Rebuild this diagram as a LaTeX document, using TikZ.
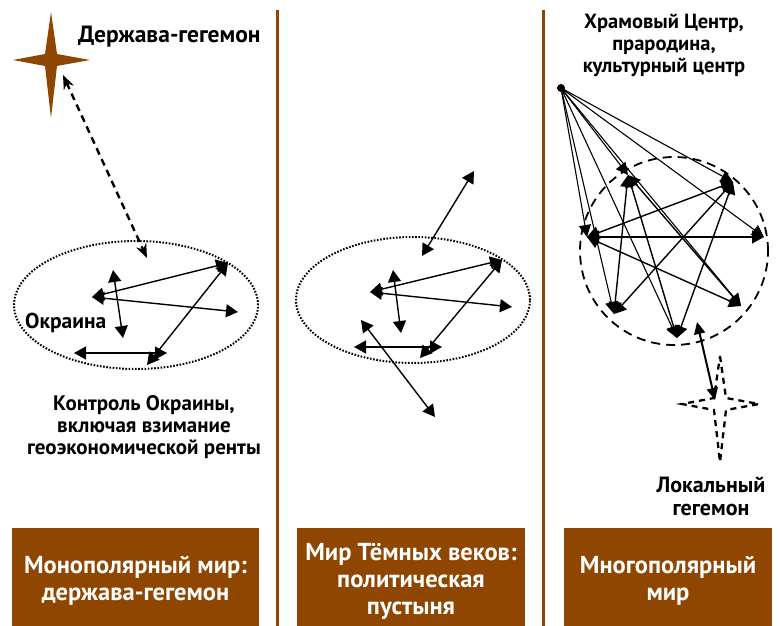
\documentclass[tikz,border=0pt]{standalone}
\usepackage{fontspec}
\setmainfont{PT Sans}
\usetikzlibrary{arrows.meta}
\definecolor{brn}{RGB}{143,70,0}
\tikzset{
  tri/.style={line width=1.4pt,{Triangle[length=12pt,width=13pt]}-{Triangle[length=12pt,width=13pt]}},
  ray/.style={line width=1.1pt,-{Triangle[length=12pt,width=12pt]}},
  lbl/.style={font=\fontsize{21}{22}\selectfont\bfseries,align=center,inner sep=0pt},
  boxlbl/.style={font=\fontsize{24.5}{27}\selectfont\bfseries,text=white,align=center,inner sep=0pt},
  dotell/.style={line width=2pt,dash pattern=on 1.6pt off 1.6pt},
  pillar/.style={draw=brn,line width=3pt},
  panel/.style={fill=brn},
  starfill/.style={fill=brn},
  stardash/.style={line width=2.3pt,dash pattern=on 6pt off 5pt},
}
\newcommand{\starpath}[2]{% center x, y
  (#1,#2-48) -- (#1+6,#2-6) -- (#1+39,#2) -- (#1+6,#2+6) -- (#1,#2+58) -- (#1-6,#2+6) -- (#1-38,#2) -- (#1-6,#2-6) -- cycle}
\begin{document}
\begin{tikzpicture}[x=1pt,y=-1pt]
\useasboundingbox (0,0) rectangle (780,626);
% pillars
\draw[pillar] (277.5,10) -- (277.5,626);
\draw[pillar] (543.5,10) -- (543.5,626);
% bottom boxes
\node[panel,minimum width=247pt,minimum height=98pt,anchor=north west,inner sep=0pt] (b1) at (12,528) {};
\node[panel,minimum width=228pt,minimum height=98pt,anchor=north west,inner sep=0pt] (b2) at (297,528) {};
\node[panel,minimum width=208pt,minimum height=98pt,anchor=north west,inner sep=0pt] (b3) at (564,528) {};
\node[boxlbl] (t1) at (135.5,581) {Монополярный мир:\\держава-гегемон};
\node[boxlbl] (t2) at (411,581) {Мир Тёмных веков:\\политическая\\пустыня};
\node[boxlbl] (t3) at (668,581) {Многополярный\\мир};

% ---------- left panel
\fill[starfill] \starpath{51}{60};
\coordinate (s1) at (63,75);
\node[lbl,font=\fontsize{23.5}{26}\selectfont\bfseries,anchor=west] (heg) at (78,37) {Держава-гегемон};
\draw[dotell] (136,305) ellipse [x radius=122pt, y radius=64pt];
\node[lbl,font=\fontsize{21.5}{24}\selectfont\bfseries,anchor=west] (okr) at (25,323) {Окраина};
\coordinate (L1) at (92,297);
\coordinate (L2) at (228,263);
\coordinate (L3) at (238,312);
\coordinate (L4) at (113,270);
\coordinate (L5) at (123,338);
\coordinate (L6) at (74,353);
\coordinate (L7) at (167,353);
\coordinate (L8) at (147,365);
\coordinate (L9) at (147,258);
\draw[line width=2.4pt,dash pattern=on 7pt off 5pt,{Stealth[length=14pt,width=11pt]}-{Stealth[length=14pt,width=11pt]}] (s1) -- (L9);
\draw[tri] (L1) -- (L2);
\draw[tri] (L1) -- (L3);
\draw[tri] (L4) -- (L5);
\draw[tri] (L6) -- (L7);
\draw[tri] (L2) -- (L8);
\node[lbl] (ctl) at (144,427) {Контроль Окраины,\\включая взимание\\геоэкономической ренты};

% ---------- middle panel
\draw[dotell] (413,300) ellipse [x radius=117pt, y radius=63pt];
\coordinate (M1) at (474,171);
\coordinate (M2) at (422,256);
\coordinate (M3) at (370,292);
\coordinate (M4) at (502,260);
\coordinate (M5) at (512,307);
\coordinate (M6) at (393,270);
\coordinate (M7) at (401,333);
\coordinate (M8) at (354,347);
\coordinate (M9) at (442,347);
\coordinate (M10) at (420,358);
\coordinate (M11) at (361,320);
\coordinate (M12) at (435,417);
\draw[tri] (M1) -- (M2);
\draw[tri] (M3) -- (M4);
\draw[tri] (M3) -- (M5);
\draw[tri] (M6) -- (M7);
\draw[tri] (M8) -- (M9);
\draw[tri] (M4) -- (M10);
\draw[tri] (M11) -- (M12);

% ---------- right panel
\node[lbl,font=\fontsize{20.5}{22}\selectfont\bfseries] (hram) at (664,45) {Храмовый Центр,\\прародина,\\культурный центр};
\draw[line width=1.8pt,dash pattern=on 9pt off 6pt] (674,251) circle [radius=94pt];
\node[circle,fill=black,inner sep=0pt,minimum size=8pt] (D) at (561,88) {};
\coordinate (N1) at (628,175);
\coordinate (N2) at (733,182);
\coordinate (N3) at (587,237);
\coordinate (N4) at (764,237);
\coordinate (N5) at (614,314);
\coordinate (N6) at (741,306);
\coordinate (N7) at (677,338);
\foreach \n in {N1,N2,N3,N4,N5,N6,N7} \draw[ray] (D.center) -- (\n);
\draw[tri] (N3) -- (N4);
\draw[tri] (N3) -- (N2);
\draw[tri] (N3) -- (N6);
\draw[tri] (N1) -- (N5);
\draw[tri] (N1) -- (N7);
\draw[tri] (N1) -- (N6);
\draw[tri] (N2) -- (N5);
\draw[tri] (N2) -- (N7);
\draw[stardash] \starpath{720}{404};
\coordinate (R8) at (697,322);
\coordinate (R9) at (715,400);
\draw[line width=2pt,{Triangle[length=12pt,width=11pt]}-{Triangle[length=12pt,width=11pt]}] (R8) -- (R9);
\node[lbl,font=\fontsize{22}{23}\selectfont\bfseries] (loc) at (711,496) {Локальный\\гегемон};
\end{tikzpicture}
\end{document}
